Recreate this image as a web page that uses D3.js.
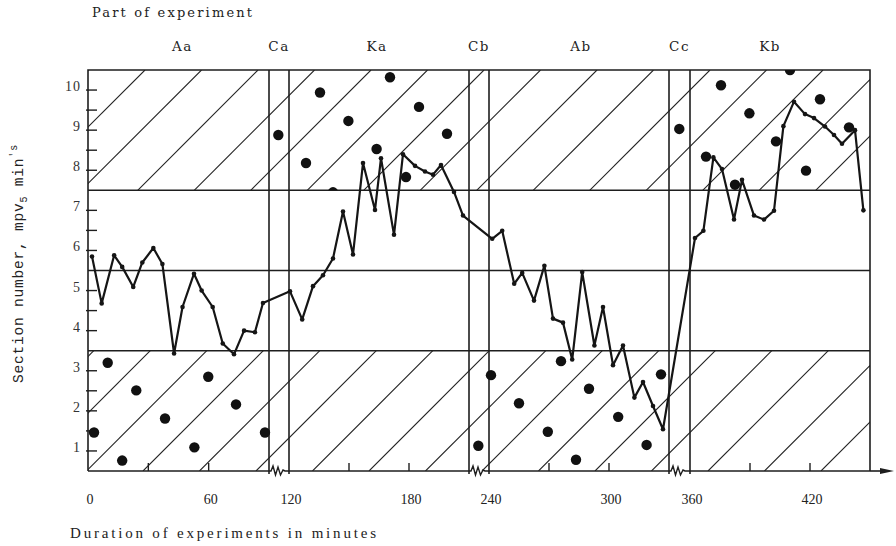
<!DOCTYPE html>
<html><head><meta charset="utf-8">
<script src="https://cdn.jsdelivr.net/npm/d3@7"></script>
<style>
html,body{margin:0;padding:0;background:#fff;}
svg{display:block;}
</style></head>
<body>
<svg id="chart" width="896" height="546"></svg>
<script>
// ---- data ----
const lineTime = [2,6.8,13,17,22.5,27,32.5,37,42.8,47,52.7,56.5,62,67,72.6,77.6,83,87,
  120.5,126.6,132,137,142,147,152,157,163,166,172.5,177,183,188,192,196,202.5,207,
  241.6,246.6,252.6,256.6,262.5,267.7,272,277,281.6,286.6,292.7,297,302,307,312.7,317,322,327,
  362.5,366.7,371.7,376,382,386,392,397,402,406.7,412,417.5,422,427.5,432,436,442.5,446.7];
const lineValue = [5.85,4.68,5.88,5.59,5.09,5.70,6.06,5.66,3.43,4.59,5.42,5.0,4.59,3.68,3.41,4.0,3.96,4.69,
  4.98,4.28,5.11,5.38,5.8,6.97,5.9,8.18,7.01,8.3,6.39,8.4,8.11,7.97,7.89,8.13,7.46,6.87,
  6.29,6.49,5.17,5.44,4.75,5.62,4.30,4.20,3.28,5.46,3.63,4.59,3.14,3.63,2.33,2.72,2.12,1.54,
  6.31,6.49,8.32,8.03,6.77,7.76,6.87,6.77,6.99,9.10,9.71,9.40,9.30,9.09,8.88,8.66,9.0,7.0];
const dotTime = [3,9.8,17,24,38.3,52.9,59.8,73.6,88,
  104,
  128.5,135.5,142,149.7,163.8,170.5,178.5,185,199,
  224,241,255,269.4,276,283.5,290,304.6,318.8,326,
  344.7,368,375.5,382.5,389.7,403,410,418,425,439.5];
const dotValue = [1.46,3.2,0.76,2.51,1.81,1.09,2.85,2.16,1.46,
  8.88,
  8.18,9.94,7.45,9.23,8.53,10.32,7.83,9.58,8.91,
  1.13,2.89,2.19,1.48,3.24,0.78,2.55,1.85,1.15,2.91,
  9.03,8.34,10.12,7.64,9.42,8.72,10.5,7.99,9.77,9.07];
const partNames = ["Aa","Ca","Ka","Cb","Ab","Cc","Kb"];
const partTimes = [47,105,164,225,286,345,400];
const breakStarts = [90,210,330];     // control periods (compressed)
const breakEnds = [120,240,360];
const xTickValues = [0,60,120,180,240,300,360,420];
const xMinorTicks = [30,60,150,180,270,300,390,420];
const yTickValues = [1,2,3,4,5,6,7,8,9,10];
const yHalfTicks = [1.5,2.5,3.5,4.5,5.5,6.5,7.5,8.5,9.5];
const bandLimits = [3.5,5.5,7.5];
const hatchBands = [[7.5,10.5],[0.5,3.5]];

// ---- scales ----
const x = d3.scaleLinear()
  .domain([0,90,120,210,240,330,360,450])
  .range([88,269,289,469,489,669,690,870]);
const y = d3.scaleLinear().domain([0.5,10.5]).range([471,70]);

const svg = d3.select("#chart");
const ink = "#1e1e1e";
const X0 = x(0), X1 = x(450), Y0 = y(0.5), Y1 = y(10.5);

const defs = svg.append("defs");
hatchBands.forEach((b,i)=>{
  defs.append("clipPath").attr("id","band"+i).append("rect")
    .attr("x",X0).attr("y",y(b[1])).attr("width",X1-X0).attr("height",y(b[0])-y(b[1]));
});

// hatching (45 degree lines)
const hatchPhase = [328, 614];
hatchBands.forEach((b,i)=>{
  const g = svg.append("g").attr("clip-path",`url(#band${i})`);
  const top = y(b[1]), bot = y(b[0]);
  const cs = d3.range(hatchPhase[i]-56.5*20, 2000, 56.5);
  g.selectAll("line").data(cs).join("line")
    .attr("x1",c=>c-bot).attr("y1",bot).attr("x2",c=>c-top).attr("y2",top)
    .attr("stroke","#222").attr("stroke-width",1.1);
});

// band boundary lines
svg.selectAll("line.band").data(bandLimits).join("line")
  .attr("x1",X0).attr("x2",X1).attr("y1",d=>y(d)).attr("y2",d=>y(d))
  .attr("stroke",ink).attr("stroke-width",1.5);

// frame: left, top, right
svg.append("path")
  .attr("d",`M${X0},${Y0}V${Y1}H${X1}V${Y0}`)
  .attr("fill","none").attr("stroke",ink).attr("stroke-width",1.6);

// control-period vertical lines
const vlines = breakStarts.concat(breakEnds);
svg.selectAll("line.v").data(vlines).join("line")
  .attr("x1",d=>x(d)).attr("x2",d=>x(d)).attr("y1",Y1).attr("y2",Y0+3)
  .attr("stroke",ink).attr("stroke-width",1.6);

// x axis with breaks
const axisSegs = [[0,90],[120,210],[240,330],[360,450]];
axisSegs.forEach(s=>{
  svg.append("line").attr("x1",x(s[0])).attr("x2",x(s[1])).attr("y1",Y0).attr("y2",Y0)
    .attr("stroke",ink).attr("stroke-width",1.6);
});
breakStarts.forEach((b,i)=>{
  const a = x(b), e = x(breakEnds[i]);
  const p = d3.path();
  p.moveTo(a,Y0); p.lineTo(a+2,Y0); p.lineTo(a+4,Y0-5); p.lineTo(a+6.5,Y0+4);
  p.lineTo(a+9,Y0-4); p.lineTo(a+11.5,Y0+4); p.lineTo(a+14,Y0-1); p.lineTo(a+16,Y0); p.lineTo(e,Y0);
  svg.append("path").attr("d",p.toString()).attr("fill","none").attr("stroke",ink).attr("stroke-width",1.4);
});
// arrow
svg.append("line").attr("x1",X1).attr("x2",883).attr("y1",Y0).attr("y2",Y0).attr("stroke",ink).attr("stroke-width",1.6);
svg.append("path").attr("d",`M880,${Y0-3}L894,${Y0}L880,${Y0+3}Z`).attr("fill",ink);

// x minor ticks
svg.selectAll("line.xt").data(xMinorTicks).join("line")
  .attr("x1",d=>x(d)).attr("x2",d=>x(d)).attr("y1",Y0).attr("y2",Y0-8)
  .attr("stroke",ink).attr("stroke-width",1.4);

// x tick labels
svg.selectAll("text.xl").data(xTickValues).join("text")
  .attr("x",d=>x(d)+2).attr("y",504).attr("text-anchor","middle")
  .attr("font-family","Liberation Serif").attr("font-size",14).attr("fill","#222")
  .text(d=>d);

// y ticks
svg.selectAll("line.yt").data(yTickValues.concat(yHalfTicks.filter(v=>!bandLimits.includes(v)))).join("line")
  .attr("x1",X0-2).attr("x2",X0+9).attr("y1",d=>y(d)).attr("y2",d=>y(d))
  .attr("stroke",ink).attr("stroke-width",1.4);
svg.selectAll("text.yl").data(yTickValues).join("text")
  .attr("x",X0-7).attr("y",d=>y(d)+1).attr("text-anchor","end")
  .attr("font-family","Liberation Serif").attr("font-size",14).attr("letter-spacing",1).attr("fill","#333")
  .text(d=>d);

// scatter dots (clipped to hatched bands)
const dots = dotTime.map((t,i)=>({t,v:dotValue[i]}));
hatchBands.forEach((b,i)=>{
  svg.append("g").attr("clip-path",`url(#band${i})`)
    .selectAll("circle").data(dots.filter(d=>d.v>=b[0]-0.2 && d.v<=b[1]+0.2)).join("circle")
    .attr("cx",d=>x(d.t)).attr("cy",d=>y(d.v)).attr("r",5.2).attr("fill","#111");
});

// main line
const pts = lineTime.map((t,i)=>({t,v:lineValue[i]}));
svg.append("path").datum(pts)
  .attr("d",d3.line().x(d=>x(d.t)).y(d=>y(d.v)))
  .attr("fill","none").attr("stroke","#151515").attr("stroke-width",2.2).attr("stroke-linejoin","round");
svg.selectAll("circle.pt").data(pts).join("circle")
  .attr("cx",d=>x(d.t)).attr("cy",d=>y(d.v)).attr("r",2.3).attr("fill","#151515");

// part labels
svg.selectAll("text.part").data(partNames).join("text")
  .attr("x",(d,i)=>x(partTimes[i])).attr("y",51).attr("text-anchor","middle")
  .attr("font-family","DejaVu Serif").attr("font-size",13.5).attr("letter-spacing",1.5).attr("fill","#222")
  .text(d=>d);

svg.append("text").attr("x",92).attr("y",17)
  .attr("font-family","DejaVu Serif").attr("font-size",13).attr("fill","#222")
  .attr("textLength",160).attr("lengthAdjust","spacing")
  .text("Part of experiment");

svg.append("text").attr("x",70).attr("y",538)
  .attr("font-family","Liberation Serif").attr("font-size",15).attr("fill","#222")
  .attr("textLength",306).attr("lengthAdjust","spacing")
  .text("Duration  of experiments in minutes");

// y axis title
const yt = svg.append("text").attr("transform","translate(23,383) rotate(-90)")
  .attr("font-family","Liberation Mono").attr("font-size",14.5).attr("letter-spacing",0.8).attr("fill","#222");
yt.append("tspan").text("Section number, mpv");
yt.append("tspan").attr("font-size",10).attr("dy",4).text("5");
yt.append("tspan").attr("dy",-4).text(" min");
yt.append("tspan").attr("font-size",10).attr("dy",-6).text("'s");
</script>
</body></html>
